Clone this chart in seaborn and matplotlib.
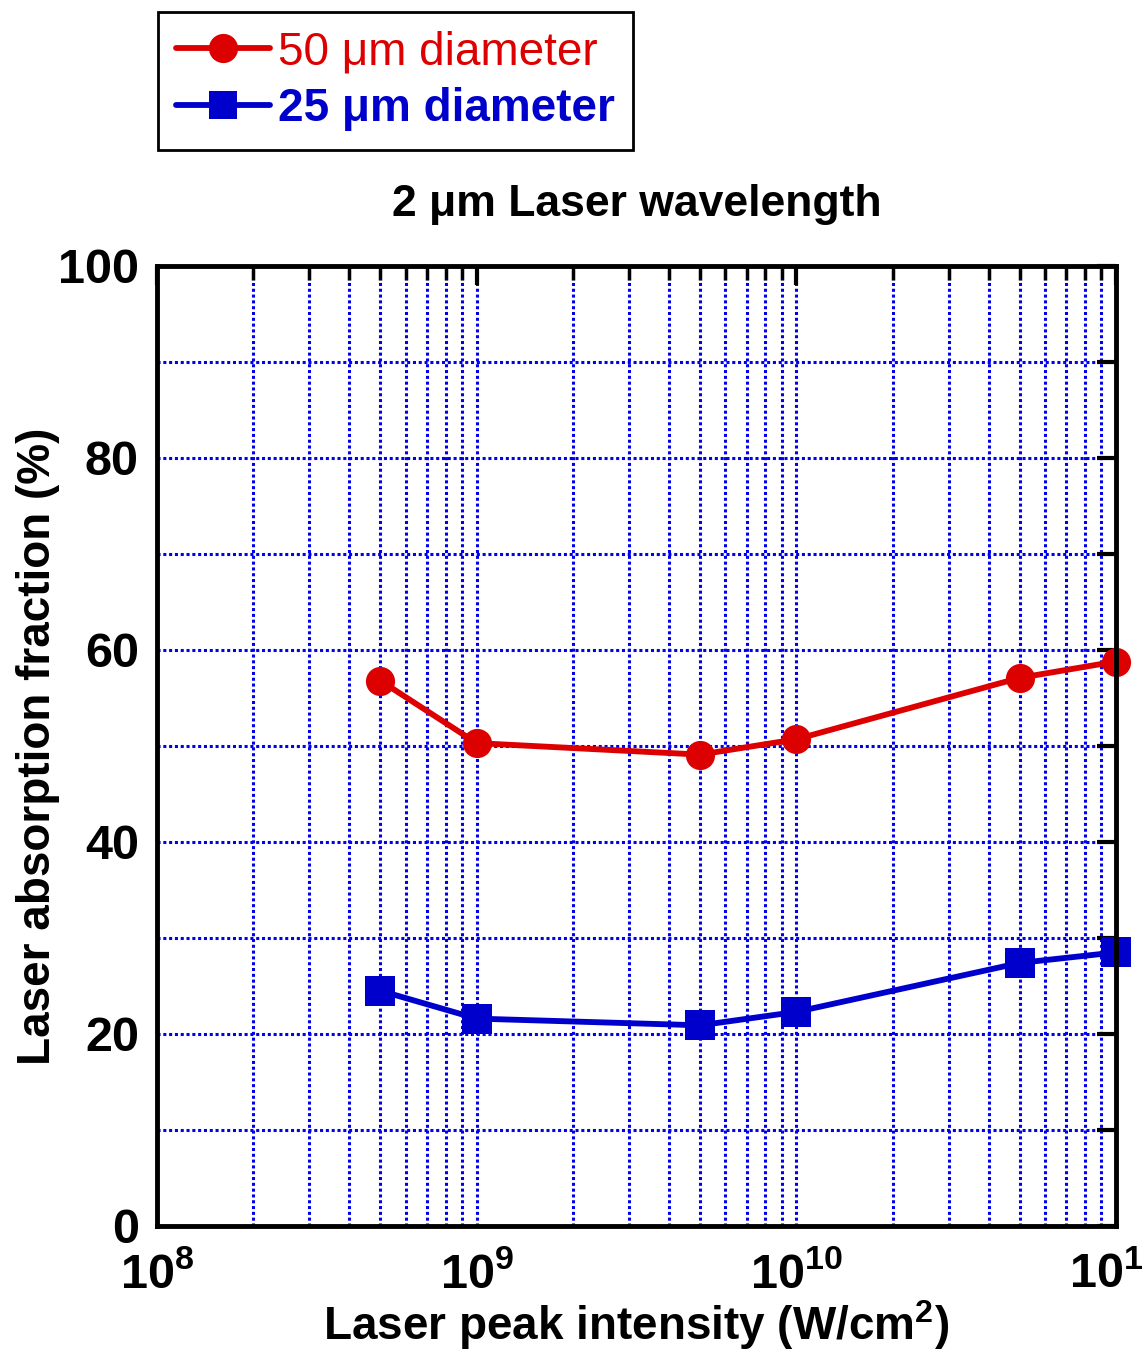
import matplotlib
matplotlib.use("Agg")
import matplotlib.pyplot as plt
import seaborn as sns
import pandas as pd
import numpy as np
from matplotlib.ticker import LogLocator, FixedLocator, NullFormatter
from matplotlib.lines import Line2D

sns.set_theme(style="white")
plt.rcParams['font.family'] = ['Liberation Sans', 'DejaVu Sans']

# Laser peak intensity (W/cm^2) and absorption fraction (%)
intensity = [5e8, 1e9, 5e9, 1e10, 5e10, 1e11]
absorption_50um = [56.8, 50.3, 49.1, 50.7, 57.1, 58.8]
absorption_25um = [24.5, 21.6, 20.9, 22.3, 27.4, 28.5]
series_labels = ["50 \u03bcm diameter", "25 \u03bcm diameter"]
y_tick_labels = ["0", "20", "40", "60", "80", "100"]
x_tick_labels = ["$\\mathregular{10^{8}}$", "$\\mathregular{10^{9}}$",
                 "$\\mathregular{10^{10}}$", "$\\mathregular{10^{11}}$"]

red = "#DD0000"
blue = "#0000CC"

df = pd.DataFrame({
    "intensity": intensity * 2,
    "absorption": absorption_50um + absorption_25um,
    "series": [series_labels[0]] * len(intensity) + [series_labels[1]] * len(intensity),
})

fig = plt.figure(figsize=(11.44, 13.53), dpi=100)
ax = fig.add_axes([0.1372, 0.0939, 0.9755 - 0.1372, 0.8034 - 0.0939])

sns.lineplot(data=df, x="intensity", y="absorption", hue="series", style="series",
             palette=[red, blue], markers=["o", "s"], dashes=False,
             linewidth=4.2, markersize=21, markeredgewidth=0, ax=ax,
             legend=False, clip_on=False, zorder=5)

ax.set_xscale("log")
ax.set_xlim(1e8, 1e11)
ax.set_ylim(0, 100)

# ticks on all four sides, pointing inward
ax.xaxis.set_major_locator(FixedLocator([1e8, 1e9, 1e10, 1e11]))
ax.set_xticklabels(x_tick_labels)
ax.xaxis.set_minor_locator(LogLocator(base=10, subs=np.arange(2, 10), numticks=20))
ax.xaxis.set_minor_formatter(NullFormatter())
ax.set_yticks([0, 20, 40, 60, 80, 100])
ax.set_yticklabels(y_tick_labels)
ax.yaxis.set_minor_locator(FixedLocator([10, 30, 50, 70, 90]))

ax.tick_params(axis="both", which="major", direction="in", length=14, width=3,
               labelsize=35, color="black", top=True, right=True)
ax.tick_params(axis="x", which="major", pad=19)
ax.tick_params(axis="y", which="major", pad=13)
ax.tick_params(axis="both", which="minor", direction="in", length=10, width=2.5,
               color="black", top=True, right=True)
ax.tick_params(axis="y", which="minor", length=14, width=3)
for lab in ax.get_xticklabels() + ax.get_yticklabels():
    lab.set_fontweight("bold")
    lab.set_color("black")

# blue dotted grid
ax.grid(True, which="both", axis="both", color="#0000EE", linestyle=(0, (1, 0.9)),
        linewidth=2.2)
ax.set_axisbelow(True)

for sp in ax.spines.values():
    sp.set_visible(True)
    sp.set_color("black")
    sp.set_linewidth(3.5)
    sp.set_zorder(6)

ax.set_xlabel("Laser peak intensity (W/cm$^{\\mathregular{2}}$)", fontsize=33,
              fontweight="bold", color="black", labelpad=0)
ax.set_ylabel("Laser absorption fraction (%)", fontsize=33, fontweight="bold",
              color="black")
ax.yaxis.set_label_coords(-0.101, 0.5)
ax.set_title("2 \u03bcm Laser wavelength", fontsize=32, fontweight="bold",
             color="black", pad=36)

# legend above the axes
handles = [
    Line2D([], [], color=red, linewidth=4.2, marker="o", markersize=21, markeredgewidth=0),
    Line2D([], [], color=blue, linewidth=4.2, marker="s", markersize=20, markeredgewidth=0),
]
leg = fig.legend(handles, series_labels, loc="upper left",
                 bbox_to_anchor=(0.138, 0.991), fontsize=33, frameon=True,
                 fancybox=False, edgecolor="black", framealpha=1,
                 handlelength=2.05, handletextpad=0.17, borderpad=0.4,
                 labelspacing=0.28, borderaxespad=0)
leg.get_frame().set_linewidth(2)
texts = leg.get_texts()
texts[0].set_color(red)
texts[1].set_color(blue)
texts[1].set_fontweight("bold")

fig.savefig("out.png", dpi=100)
